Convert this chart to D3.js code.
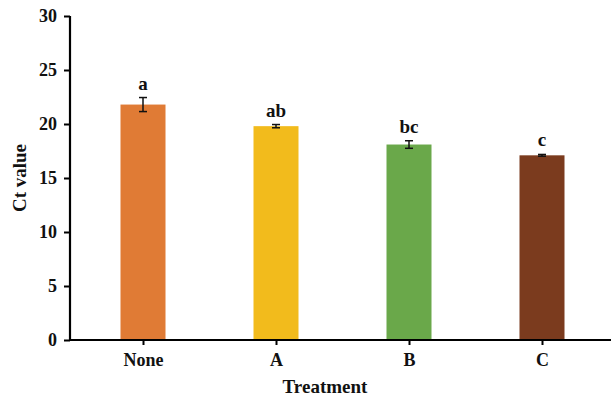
<!DOCTYPE html>
<html>
<head>
<meta charset="utf-8">
<script src="https://cdn.jsdelivr.net/npm/d3@7"></script>
<style>
body { margin: 0; background: #fff; }
text { font-family: "Liberation Serif", "Times New Roman", serif; font-weight: bold; }
</style>
</head>
<body>
<svg width="611" height="399"></svg>
<script>
var treatments = ['None', 'A', 'B', 'C'];
var ctValues = [21.8, 19.8, 18.1, 17.1];
var ctErrors = [0.65, 0.15, 0.35, 0.08];
var letters = ['a', 'ab', 'bc', 'c'];
var barColors = ['#E07B35', '#F2BB1C', '#6AA84A', '#7B3B1E'];
var yTicks = [0, 5, 10, 15, 20, 25, 30];

var svg = d3.select('svg');
var plotLeft = 70, plotTop = 16, plotRight = 611, plotBottom = 340;

var x = d3.scalePoint()
    .domain(treatments)
    .range([143, 542]);

var y = d3.scaleLinear()
    .domain([0, 30])
    .range([plotBottom, plotTop]);

var barW = 45;

// bars
svg.append('g')
    .selectAll('rect')
    .data(treatments)
    .enter()
    .append('rect')
    .attr('x', function(d) { return x(d) - barW / 2 })
    .attr('y', function(d, i) { return y(ctValues[i]) })
    .attr('width', barW)
    .attr('height', function(d, i) { return plotBottom - y(ctValues[i]) })
    .attr('fill', function(d, i) { return barColors[i] });

// error bars
var eb = svg.append('g').attr('stroke', '#111').attr('stroke-width', 1.5);
treatments.forEach(function(d, i) {
    var cx = x(d);
    var y1 = y(ctValues[i] + ctErrors[i]);
    var y2 = y(ctValues[i] - ctErrors[i]);
    eb.append('line').attr('x1', cx).attr('x2', cx).attr('y1', y1).attr('y2', y2);
    eb.append('line').attr('x1', cx - 4).attr('x2', cx + 4).attr('y1', y1).attr('y2', y1);
    eb.append('line').attr('x1', cx - 4).attr('x2', cx + 4).attr('y1', y2).attr('y2', y2);
});

// significance letters
svg.append('g')
    .selectAll('text')
    .data(treatments)
    .enter()
    .append('text')
    .attr('x', function(d) { return x(d) })
    .attr('y', function(d, i) { return y(ctValues[i] + ctErrors[i]) - 8 })
    .attr('text-anchor', 'middle')
    .attr('font-size', 19)
    .attr('fill', '#111')
    .text(function(d, i) { return letters[i] });

// y axis
var yAxis = svg.append('g')
    .attr('transform', 'translate(' + plotLeft + ',0)')
    .call(d3.axisLeft(y).tickValues(yTicks).tickSize(6).tickPadding(7));
yAxis.select('.domain').attr('stroke', '#000').attr('stroke-width', 2.2).attr('d', 'M0,' + plotTop + 'V' + plotBottom);
yAxis.selectAll('.tick line').attr('stroke', '#000').attr('stroke-width', 2);
yAxis.selectAll('.tick text').attr('font-size', 18).attr('fill', '#111')
    .style('font-family', '"Liberation Serif", serif').style('font-weight', 'bold');

// x axis
var xAxis = svg.append('g')
    .attr('transform', 'translate(0,' + plotBottom + ')')
    .call(d3.axisBottom(x).tickSize(5).tickPadding(8));
xAxis.select('.domain').attr('stroke', '#000').attr('stroke-width', 2.2).attr('d', 'M' + (plotLeft - 1) + ',0H' + plotRight);
xAxis.selectAll('.tick line').attr('stroke', '#000').attr('stroke-width', 2);
xAxis.selectAll('.tick text').attr('font-size', 18).attr('fill', '#111')
    .style('font-family', '"Liberation Serif", serif').style('font-weight', 'bold');

// axis titles
svg.append('text')
    .attr('transform', 'translate(26,' + ((plotTop + plotBottom) / 2) + ') rotate(-90)')
    .attr('text-anchor', 'middle')
    .attr('font-size', 19)
    .attr('fill', '#111')
    .text('Ct value');

svg.append('text')
    .attr('x', 325)
    .attr('y', 393)
    .attr('text-anchor', 'middle')
    .attr('font-size', 19)
    .attr('fill', '#111')
    .text('Treatment');
</script>
</body>
</html>
